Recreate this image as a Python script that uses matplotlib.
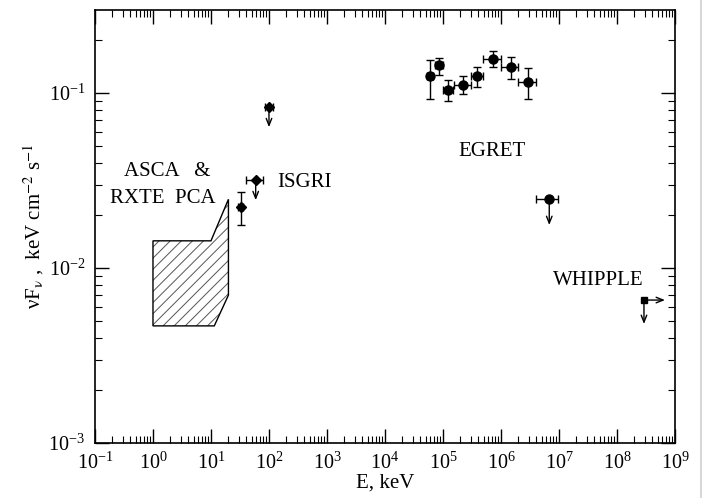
import matplotlib
matplotlib.use("Agg")
import matplotlib.pyplot as plt
from matplotlib.patches import Polygon
from matplotlib.lines import Line2D
from matplotlib.ticker import LogLocator, NullFormatter

plt.rcParams['font.family'] = ['Liberation Serif', 'DejaVu Serif']
plt.rcParams['mathtext.fontset'] = 'stix'
plt.rcParams['hatch.linewidth'] = 0.7

# ASCA & RXTE PCA bow-tie region (keV, flux)
asca_e = [1.0, 10.0, 20.0, 20.0, 11.4, 1.0]
asca_f = [0.0143, 0.0143, 0.0247, 0.0070, 0.00467, 0.00467]

# ISGRI detection
isgri_e = [32.5]
isgri_f = [0.0223]
isgri_flo = [0.0176]
isgri_fhi = [0.0272]
isgri_elo = [29.5]
isgri_ehi = [36.0]

# ISGRI upper limits
isgri_ul_e = [59.0, 100.0]
isgri_ul_f = [0.0317, 0.0828]
isgri_ul_elo = [39.6, 85.0]
isgri_ul_ehi = [80.0, 119.0]

# EGRET points
egret_e = [5.97e4, 8.4e4, 1.22e5, 2.24e5, 3.86e5, 7.37e5, 1.47e6, 2.96e6]
egret_f = [0.1245, 0.144, 0.1045, 0.1115, 0.1245, 0.157, 0.141, 0.116]
egret_flo = [0.0928, 0.126, 0.090, 0.099, 0.108, 0.140, 0.121, 0.0928]
egret_fhi = [0.1545, 0.159, 0.1186, 0.1245, 0.140, 0.1746, 0.160, 0.139]
egret_elo = [5.3e4, 7.2e4, 1.01e5, 1.55e5, 3.0e5, 4.95e5, 9.9e5, 1.99e6]
egret_ehi = [6.7e4, 9.9e4, 1.47e5, 3.0e5, 4.95e5, 9.9e5, 1.99e6, 3.95e6]

# EGRET upper limit
egret_ul_e = [6.8e6]
egret_ul_f = [0.0248]
egret_ul_elo = [3.95e6]
egret_ul_ehi = [9.7e6]

# WHIPPLE limit
whipple_e = [2.92e8]
whipple_f = [0.00656]

fig = plt.figure(figsize=(7.02, 4.98), dpi=100)
ax = fig.add_axes([0.1353, 0.1104, 0.8262, 0.8695])

ax.set_xscale('log')
ax.set_yscale('log')
ax.set_xlim(1e-1, 1e9)
ax.set_ylim(1e-3, 0.298)

# hatched region: gray hatch, black outline
verts = list(zip(asca_e, asca_f))
ax.add_patch(Polygon(verts, closed=True, facecolor='white', edgecolor='#555555',
                     lw=0, hatch='///'))
ax.add_patch(Polygon(verts, closed=True, fill=False, edgecolor='black', lw=1.0))


def xerrs(e, lo, hi):
    return [[a - b for a, b in zip(e, lo)], [b - a for a, b in zip(e, hi)]]


eb = dict(fmt='none', ecolor='black', elinewidth=1.0, capsize=3, capthick=1.0)

ax.errorbar(isgri_e, isgri_f, xerr=xerrs(isgri_e, isgri_elo, isgri_ehi),
            yerr=xerrs(isgri_f, isgri_flo, isgri_fhi), **eb)
ax.plot(isgri_e, isgri_f, 'D', color='black', ms=5)

ax.errorbar(isgri_ul_e, isgri_ul_f, xerr=xerrs(isgri_ul_e, isgri_ul_elo, isgri_ul_ehi), **eb)
ax.plot(isgri_ul_e, isgri_ul_f, 'D', color='black', ms=5)

ax.errorbar(egret_e, egret_f, xerr=xerrs(egret_e, egret_elo, egret_ehi),
            yerr=xerrs(egret_f, egret_flo, egret_fhi), **eb)
ax.plot(egret_e, egret_f, 'o', color='black', ms=6.5)

ax.errorbar(egret_ul_e, egret_ul_f, xerr=xerrs(egret_ul_e, egret_ul_elo, egret_ul_ehi), **eb)
ax.plot(egret_ul_e, egret_ul_f, 'o', color='black', ms=6.5)

ax.plot(whipple_e, whipple_f, 's', color='black', ms=5)

arrow = dict(arrowstyle='->,head_length=0.5,head_width=0.2', color='black', lw=1.0,
             shrinkA=0, shrinkB=0)
for e, f in zip(isgri_ul_e, isgri_ul_f):
    ax.annotate('', xy=(e, f * 0.77), xytext=(e, f), arrowprops=arrow)
for e, f in zip(egret_ul_e, egret_ul_f):
    ax.annotate('', xy=(e, f * 0.71), xytext=(e, f), arrowprops=arrow)
for e, f in zip(whipple_e, whipple_f):
    ax.annotate('', xy=(e, f * 0.73), xytext=(e, f), arrowprops=arrow)
    ax.annotate('', xy=(e * 2.3, f), xytext=(e, f), arrowprops=arrow)

# labels
fs = 15
ax.text(1.74, 0.0354, 'ASCA   &', fontsize=fs, ha='center', va='center')
ax.text(1.49, 0.0248, 'RXTE  PCA', fontsize=fs, ha='center', va='center')
ax.text(141, 0.0307, 'ISGRI', fontsize=fs, ha='left', va='center')
ax.text(1.84e5, 0.0463, 'EGRET', fontsize=fs, ha='left', va='center')
ax.text(7.98e6, 0.00854, 'WHIPPLE', fontsize=fs, ha='left', va='center')

ax.set_xlabel('E, keV', fontsize=15, labelpad=0)
ax.set_ylabel(r'νF$_{\mathrm{ν}}$ ,  keV cm$^{-2}$ s$^{-1}$', fontsize=15, labelpad=2)

ax.xaxis.set_major_locator(LogLocator(base=10, numticks=20))
ax.xaxis.set_minor_locator(LogLocator(base=10, subs=range(2, 10), numticks=20))
ax.xaxis.set_minor_formatter(NullFormatter())
ax.yaxis.set_minor_locator(LogLocator(base=10, subs=range(2, 10), numticks=20))
ax.yaxis.set_minor_formatter(NullFormatter())

ax.tick_params(which='both', direction='in', top=True, right=True, labelsize=14.5)
ax.tick_params(which='major', length=10, width=1.0, pad=7)
ax.tick_params(which='minor', length=5, width=0.8)
for s in ax.spines.values():
    s.set_linewidth(1.2)

fig.add_artist(Line2D([0.998, 0.998], [0, 1], color='#d8d8d8', lw=1.5))

fig.savefig('out.png', dpi=100)
